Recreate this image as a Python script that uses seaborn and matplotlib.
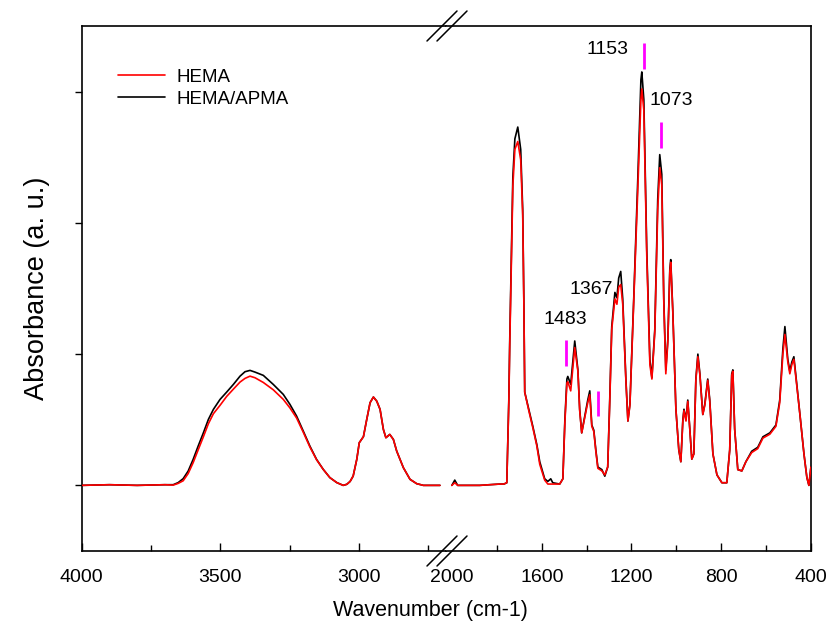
import numpy as np
import matplotlib
matplotlib.use("Agg")
from matplotlib import pyplot as plt
from matplotlib.lines import Line2D
import seaborn as sns

# high wavenumber part (left of the break)
wn_high = [4000, 3900, 3800, 3700, 3670, 3652, 3634, 3616, 3598, 3580, 3561, 3543, 3525, 3501,
           3477, 3453, 3429, 3411, 3393, 3375, 3345, 3309, 3273, 3249, 3225, 3201, 3177, 3153,
           3129, 3105, 3080, 3057, 3044, 3032, 3021, 3008, 2999, 2984, 2972, 2960, 2948, 2936,
           2924, 2912, 2903, 2889, 2876, 2864, 2840, 2816, 2792, 2768, 2708]
apma_high = [0.0, 0.0005, 0.0, 0.0005, 0.0005, 0.0021, 0.0051, 0.0109, 0.0198, 0.0299, 0.0401, 0.0503,
             0.0579, 0.0655, 0.0711, 0.0769, 0.0832, 0.0866, 0.0876, 0.0863, 0.0838, 0.0769, 0.0693,
             0.0617, 0.0528, 0.0414, 0.0299, 0.0198, 0.0122, 0.0059, 0.0021, 0.0, 0.0008, 0.0030,
             0.0071, 0.0198, 0.0325, 0.0371, 0.0503, 0.0630, 0.0673, 0.0642, 0.0579, 0.0426, 0.0363,
             0.0388, 0.0350, 0.0261, 0.0135, 0.0046, 0.0013, 0.0, 0.0]
hema_high = [0.0, 0.0005, 0.0, 0.0005, 0.0002, 0.0015, 0.0035, 0.0090, 0.0173, 0.0270, 0.0371, 0.0470,
             0.0546, 0.0610, 0.0678, 0.0733, 0.0787, 0.0815, 0.0832, 0.0820, 0.0784, 0.0728, 0.0655,
             0.0590, 0.0513, 0.0405, 0.0292, 0.0195, 0.0122, 0.0059, 0.0021, 0.0, 0.0008, 0.0030,
             0.0071, 0.0198, 0.0325, 0.0371, 0.0503, 0.0630, 0.0673, 0.0642, 0.0579, 0.0426, 0.0363,
             0.0388, 0.0350, 0.0261, 0.0135, 0.0046, 0.0013, 0.0, 0.0]

# fingerprint part (right of the break)
wn_low = [2001, 1988, 1975, 1877, 1787, 1769, 1756, 1747, 1743, 1729, 1720, 1707, 1694, 1685,
          1680, 1676, 1658, 1640, 1622, 1609, 1587, 1573, 1560, 1551, 1520, 1506, 1497, 1488,
          1484, 1471, 1453, 1439, 1431, 1422, 1408, 1395, 1386, 1377, 1368, 1359, 1350, 1332,
          1319, 1306, 1297, 1288, 1274, 1265, 1257, 1248, 1239, 1225, 1216, 1207, 1190, 1172,
          1158, 1154, 1145, 1132, 1118, 1109, 1096, 1083, 1074, 1065, 1056, 1047, 1038, 1029,
          1025, 1016, 1002, 989, 980, 971, 966, 957, 949, 940, 931, 922, 913, 904, 895, 882,
          873, 860, 851, 837, 819, 797, 775, 762, 753, 748, 740, 726, 708, 690, 664, 637, 614,
          583, 556, 539, 525, 516, 503, 494, 485, 476, 463, 449, 431, 418, 409, 400]
apma_low = [0.0, 0.004, 0.0, 0.0, 0.001, 0.001, 0.002, 0.065, 0.109, 0.235, 0.264, 0.273, 0.256, 0.210,
            0.142, 0.071, 0.058, 0.045, 0.031, 0.018, 0.005, 0.003, 0.005, 0.002, 0.001, 0.005, 0.050, 0.081,
            0.083, 0.077, 0.110, 0.088, 0.058, 0.040, 0.053, 0.065, 0.072, 0.046, 0.042, 0.027, 0.014, 0.012,
            0.007, 0.014, 0.065, 0.121, 0.147, 0.143, 0.158, 0.163, 0.142, 0.081, 0.049, 0.062, 0.142, 0.233,
            0.309, 0.315, 0.294, 0.180, 0.096, 0.082, 0.119, 0.218, 0.252, 0.237, 0.142, 0.088, 0.111, 0.165,
            0.172, 0.134, 0.058, 0.027, 0.018, 0.050, 0.058, 0.050, 0.065, 0.043, 0.020, 0.024, 0.081, 0.100,
            0.085, 0.054, 0.062, 0.081, 0.065, 0.024, 0.008, 0.002, 0.002, 0.027, 0.085, 0.088, 0.043, 0.012,
            0.011, 0.018, 0.026, 0.029, 0.037, 0.040, 0.046, 0.065, 0.104, 0.121, 0.096, 0.087, 0.094, 0.098,
            0.077, 0.054, 0.024, 0.006, 0.0, 0.014]
hema_low = [0.0, 0.002, 0.0, 0.0, 0.001, 0.001, 0.002, 0.063, 0.105, 0.228, 0.256, 0.262, 0.248, 0.206,
            0.140, 0.071, 0.057, 0.044, 0.030, 0.016, 0.004, 0.001, 0.001, 0.001, 0.001, 0.005, 0.048, 0.078,
            0.079, 0.072, 0.105, 0.087, 0.057, 0.040, 0.052, 0.063, 0.069, 0.045, 0.041, 0.026, 0.013, 0.011,
            0.008, 0.014, 0.063, 0.119, 0.142, 0.138, 0.151, 0.153, 0.138, 0.080, 0.049, 0.061, 0.140, 0.225,
            0.294, 0.302, 0.286, 0.176, 0.092, 0.081, 0.117, 0.210, 0.242, 0.229, 0.140, 0.085, 0.109, 0.163,
            0.170, 0.133, 0.058, 0.027, 0.018, 0.049, 0.057, 0.049, 0.064, 0.043, 0.020, 0.024, 0.080, 0.098,
            0.084, 0.054, 0.061, 0.080, 0.064, 0.024, 0.008, 0.002, 0.002, 0.027, 0.084, 0.087, 0.043, 0.012,
            0.011, 0.018, 0.025, 0.028, 0.036, 0.039, 0.045, 0.063, 0.100, 0.115, 0.094, 0.085, 0.092, 0.096,
            0.076, 0.054, 0.024, 0.006, 0.0, 0.014]

# marked bands: label, wavenumber of the tick mark, mark bottom/top
band_labels = ["1483", "1367", "1153", "1073"]
band_wn = [1493, 1350, 1145, 1069]
band_lo = [0.091, 0.053, 0.317, 0.257]
band_hi = [0.111, 0.072, 0.337, 0.277]

sns.set_style("ticks")
plt.rcParams['font.family'] = ['Liberation Sans', 'DejaVu Sans']
for key in ['text.color', 'axes.labelcolor', 'xtick.color', 'ytick.color', 'axes.edgecolor']:
    plt.rcParams[key] = 'black'

fig, (ax1, ax2) = plt.subplots(1, 2, figsize=(8.3, 6.31), dpi=100, sharey=True,
                               gridspec_kw={'width_ratios': [364, 365], 'wspace': 0})
fig.subplots_adjust(left=0.0984, right=0.977, bottom=0.1268, top=0.9588)

lw = 1.2
sns.lineplot(x=wn_high, y=hema_high, color='red', lw=lw, ax=ax1, label='HEMA', zorder=3)
sns.lineplot(x=wn_high, y=apma_high, color='black', lw=lw, ax=ax1, label='HEMA/APMA', zorder=2)
sns.lineplot(x=wn_low, y=hema_low, color='red', lw=lw, ax=ax2, zorder=3)
sns.lineplot(x=wn_low, y=apma_low, color='black', lw=lw, ax=ax2, zorder=2)
for ax in (ax1, ax2):
    for ln in ax.get_lines():
        ln.set_solid_joinstyle('round')

ax1.set_xlim(4000, 2687)
ax2.set_xlim(2028, 400)
ax1.set_ylim(-0.05, 0.35)

ax1.set_xticks([4000, 3500, 3000])
ax1.set_xticks([3750, 3250, 2750], minor=True)
ax2.set_xticks([2000, 1600, 1200, 800, 400])
ax2.set_xticks([1800, 1400, 1000, 600], minor=True)
ax2.xaxis.get_major_ticks()[0].tick1line.set_visible(False)
ax1.set_yticks([0, 0.1, 0.2, 0.3])
ax1.set_yticklabels([])

for ax in (ax1, ax2):
    ax.tick_params(axis='x', which='major', direction='in', length=6, width=1, labelsize=14, pad=13)
    ax.tick_params(axis='x', which='minor', direction='in', length=4, width=1)
    for s in ax.spines.values():
        s.set_linewidth(1.2)
        s.set_visible(True)
ax1.tick_params(axis='y', direction='out', length=5, width=1)
ax2.tick_params(axis='y', left=False, right=False)
ax1.spines['right'].set_visible(False)
ax2.spines['left'].set_visible(False)

ax1.set_ylabel('Absorbance (a. u.)', fontsize=19.5, labelpad=14)
fig.text(0.518, 0.033, 'Wavenumber (cm-1)', fontsize=15.5, ha='center', va='center')

leg = ax1.legend(loc='upper left', bbox_to_anchor=(0.0795, 0.933), frameon=False, fontsize=13.5,
                 handlelength=2.5, handletextpad=0.62, labelspacing=0.25, borderaxespad=0)

# band markers and labels
ax2.vlines(band_wn, band_lo, band_hi, color='#ff00ff', lw=2)
ax2.text(1497, 0.126, band_labels[0], fontsize=14, ha='center', va='center')
ax2.text(1283, 0.149, band_labels[1], fontsize=14, ha='right', va='center')
ax2.text(1212, 0.332, band_labels[2], fontsize=14, ha='right', va='center')
ax2.text(1118, 0.293, band_labels[3], fontsize=14, ha='left', va='center')

# axis break marks (top and bottom)
W, H = 830, 631
for yc in (26, 551):
    for xc in (442, 452):
        fig.add_artist(Line2D([(xc - 15) / W, (xc + 15) / W], [1 - (yc + 15) / H, 1 - (yc - 15) / H],
                              transform=fig.transFigure, color='black', lw=1.1))

fig.savefig('out.png', dpi=100)
